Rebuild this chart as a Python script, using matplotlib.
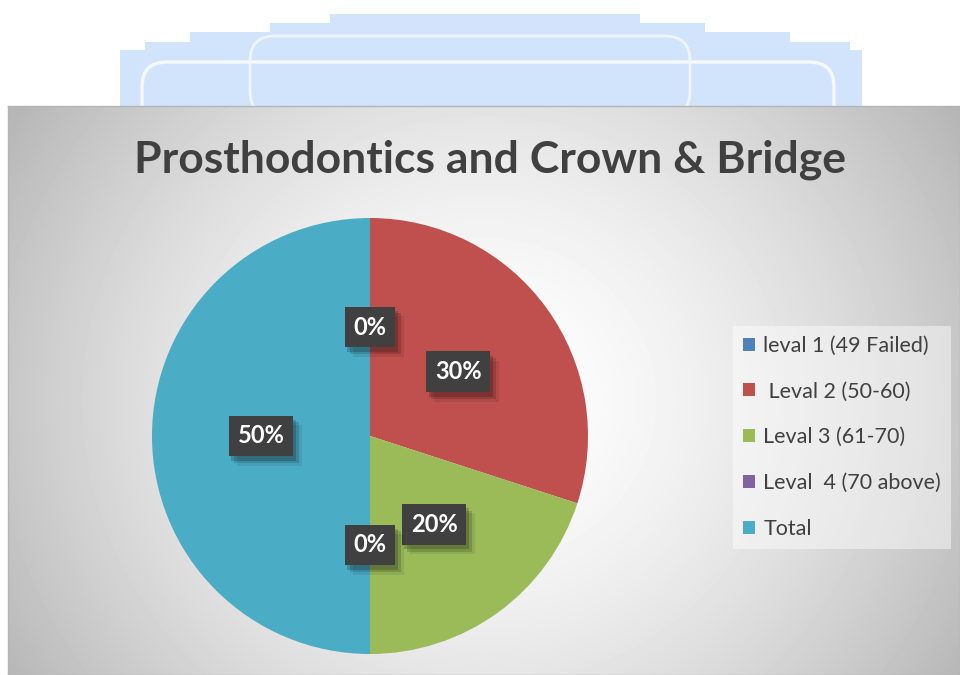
import numpy as np
import matplotlib.pyplot as plt
from matplotlib import patheffects as pe
from matplotlib.patches import Rectangle, FancyBboxPatch

plt.rcParams['font.family'] = ['Lato', 'DejaVu Sans']

labels = ['leval 1 (49 Failed)', ' Leval 2 (50-60)', 'Leval 3 (61-70)', 'Leval  4 (70 above)', 'Total']
values = [0, 30, 20, 0, 50]
colors = ['#4f81bd', '#c0504d', '#9bbb59', '#8064a2', '#4bacc6']
title = 'Prosthodontics and Crown & Bridge'

W, H = 960, 675
fig = plt.figure(figsize=(9.6, 6.75), dpi=100)


def px(x0, y0, x1, y1):
    # pixel box, origin top-left -> figure fraction
    return [x0 / W, 1 - y1 / H, (x1 - x0) / W, (y1 - y0) / H]


# faint blue shape above the chart (scan background)
top = fig.add_axes([0, 0, 1, 1])
top.set_xlim(0, W)
top.set_ylim(H, 0)
top.axis('off')
blue = '#d2e4fb'
for x0, x1, y0 in [(330, 640, 14), (270, 705, 23), (190, 790, 32), (145, 850, 42), (120, 862, 50)]:
    top.add_patch(Rectangle((x0, y0), x1 - x0, 106 - y0, color=blue, lw=0))
top.add_patch(FancyBboxPatch((142, 62), 692, 80, boxstyle='round,pad=0,rounding_size=25',
                             fc='none', ec='#f4f9ff', lw=2.5))
top.add_patch(FancyBboxPatch((250, 36), 440, 80, boxstyle='round,pad=0,rounding_size=25',
                             fc='none', ec='#eef5ff', lw=2))

# chart area with grey radial gradient
bg = fig.add_axes(px(8, 106, 960, 675))
yy, xx = np.mgrid[106:675, 8:960]
d = np.hypot((xx - 484) / 476, (yy - 400) / 450)
v = 1 - 0.22 * np.clip(d, 0, 1.2) ** 1.6
bg.imshow(v, cmap='gray', vmin=0, vmax=1, aspect='auto', interpolation='bilinear')
bg.set_xticks([])
bg.set_yticks([])
for s in bg.spines.values():
    s.set_color('#b4b4b4')
    s.set_linewidth(1)

fig.text(490 / W, 1 - 160 / H, title, ha='center', va='center',
         fontsize=32, fontweight='bold', color='#404040')

ax = fig.add_axes(px(152, 218, 588, 654))
wedges, texts, autotexts = ax.pie(values, colors=colors, startangle=90, counterclock=False,
                                  radius=1, autopct=lambda p: '%d%%' % round(p),
                                  pctdistance=0.5,
                                  textprops=dict(color='white', fontsize=17, fontweight='bold'))
ax.set_xlim(-1, 1)
ax.set_ylim(-1, 1)
for t in autotexts:
    t.set_bbox(dict(boxstyle='square,pad=0.38', fc='#404040', ec='none'))
    t.get_bbox_patch().set_path_effects([
        pe.SimplePatchShadow(offset=(6, -7), shadow_rgbFace='black', alpha=0.08),
        pe.SimplePatchShadow(offset=(4, -5), shadow_rgbFace='black', alpha=0.14),
        pe.SimplePatchShadow(offset=(2, -3), shadow_rgbFace='black', alpha=0.18),
        pe.Normal()])

leg = fig.legend(wedges, labels, loc='upper left', bbox_to_anchor=(733 / W, 1 - 326 / H),
                 frameon=True, fontsize=15.5, handlelength=0.55, handleheight=0.55,
                 handletextpad=0.4, labelspacing=1.2, borderpad=0.45, borderaxespad=0)
leg.get_frame().set_facecolor('white')
leg.get_frame().set_alpha(0.45)
leg.get_frame().set_edgecolor('none')
leg.get_frame().set_boxstyle('square,pad=0')
for t in leg.get_texts():
    t.set_color('#404040')

fig.savefig('out.png', dpi=100)
